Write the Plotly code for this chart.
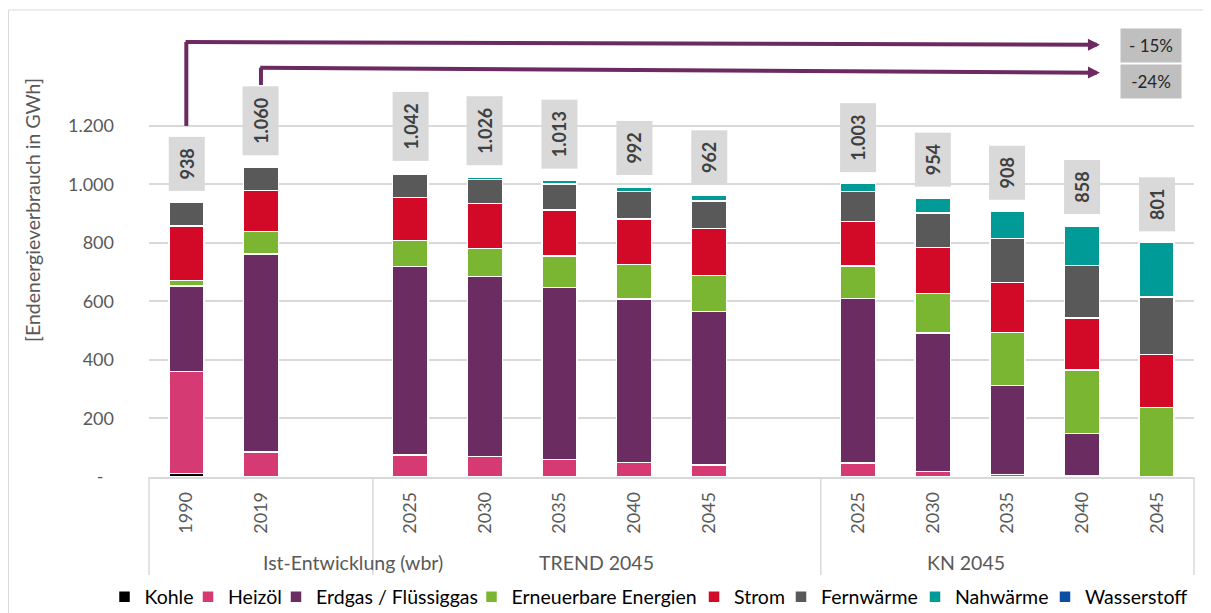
import plotly.graph_objects as go

years = ["1990", "2019", "", "2025", "2030", "2035", "2040", "2045", "",
         "2025", "2030", "2035", "2040", "2045"]
groups = ["Ist-Entwicklung (wbr)", "TREND 2045", "KN 2045"]
group_sizes = [3, 6, 5]

kohle = [12, 0, None, 0, 0, 0, 0, 0, None, 0, 0, 0, 0, 0]
heizoel = [348, 85, None, 76, 70, 60, 50, 41, None, 48, 18, 8, 3, 0]
erdgas = [293, 677, None, 644, 615, 587, 559, 524, None, 562, 474, 305, 145, 0]
erneuerbare = [19, 77, None, 88, 96, 109, 117, 124, None, 111, 135, 181, 217, 237]
strom = [186, 140, None, 147, 154, 157, 156, 160, None, 152, 158, 170, 178, 181]
fernwaerme = [80, 81, None, 81, 82, 88, 94, 95, None, 102, 117, 151, 180, 198]
nahwaerme = [0, 0, None, 6, 9, 12, 16, 18, None, 28, 52, 93, 135, 185]
wasserstoff = [0, 0, None, 0, 0, 0, 0, 0, None, 0, 0, 0, 0, 0]
totals = [938, 1060, None, 1042, 1026, 1013, 992, 962, None, 1003, 954, 908, 858, 801]

total_labels = ["938", "1.060", "", "1.042", "1.026", "1.013", "992", "962", "",
                "1.003", "954", "908", "858", "801"]
y_ticks = [0, 200, 400, 600, 800, 1000, 1200]
y_ticktext = ["-\u2007", "200", "400", "600", "800", "1.000", "1.200"]

# reduction arrows: (start category, start value, bend value, end x, end value, label, label value)
arrows = [
    (0, 1200, 1487, 12.24, 1477, "- 15%", 1476),
    (1, 1340, 1399, 12.24, 1382, "-24%", 1352),
]

series = [
    ("Kohle", kohle, "#000000"),
    ("Heizöl", heizoel, "#d63a72"),
    ("Erdgas / Flüssiggas", erdgas, "#6b2c62"),
    ("Erneuerbare Energien", erneuerbare, "#7ab631"),
    ("Strom", strom, "#d20a27"),
    ("Fernwärme", fernwaerme, "#595959"),
    ("Nahwärme", nahwaerme, "#009b96"),
    ("Wasserstoff", wasserstoff, "#0b4ea2"),
]
# x pixel of each legend marker (figure coords)
legend_px = [122.5, 206, 294, 489.5, 712, 799, 933, 1063]

FONT = "Lato, 'Open Sans', sans-serif"
GREY = "#595959"
L, W = 141, 1045          # plot area left / width in px
T, H = 12, 457            # plot area top / height in px
x = list(range(len(years)))

fig = go.Figure()
legends = {}
for k, ((name, vals, col), lx) in enumerate(zip(series, legend_px)):
    key = "legend" if k == 0 else f"legend{k + 1}"
    fig.add_bar(x=x, y=vals, name=name, marker_color=col, legend=key,
                marker_line=dict(color="white", width=1.5))
    legends[key] = dict(orientation="h", x=(lx - 26 - L) / W, xanchor="left",
                        y=-0.2626, yanchor="middle", bgcolor="rgba(0,0,0,0)",
                        font=dict(family=FONT, size=19.5, color="#000000"))

# total value boxes
for i, (t, lab) in enumerate(zip(totals, total_labels)):
    if t is None:
        continue
    fig.add_annotation(x=i, y=t, text=f"<b>{lab}</b>", showarrow=False,
                       textangle=-90, yanchor="bottom", yshift=11,
                       bgcolor="#d9d9d9", width=51 if t < 1000 else 66, height=33,
                       font=dict(family=FONT, size=18, color="#404040"))

# reduction arrows
purple = "#6d2a61"
for xi, y0, y1, xe, ye, lab, ly in arrows:
    fig.add_shape(type="line", x0=xi, x1=xi, y0=y0, y1=y1,
                  line=dict(color=purple, width=4))
    fig.add_annotation(x=xe, y=ye, ax=xi - 0.03, ay=y1, axref="x", ayref="y",
                       text="", showarrow=True, arrowhead=2, arrowsize=0.6,
                       arrowwidth=4, arrowcolor=purple, standoff=0)
    fig.add_annotation(x=12.92, y=ly, text=lab, showarrow=False, bgcolor="#bfbfbf",
                       width=58, height=31, font=dict(family=FONT, size=17, color="#262626"))

# group labels and dividers
n = len(years)
start = 0
for g, size in zip(groups, group_sizes):
    fig.add_annotation(x=(start + start + size) / 2 / n, xref="paper",
                       y=-0.188, yref="paper", yanchor="middle", text=g, showarrow=False,
                       font=dict(family=FONT, size=19.5, color=GREY))
    start += size
edge = 0
for b in [0] + group_sizes:
    edge += b
    fig.add_shape(type="line", xref="paper", yref="paper", x0=edge / n, x1=edge / n,
                  y0=0, y1=-0.2145, line=dict(color="#d9d9d9", width=1.5))

# y axis title (sits above the axis centre in the original)
fig.add_annotation(x=(24 - L) / W, xref="paper", y=(T + H - 202) / H, yref="paper",
                   text="[Endenergieverbrauch in GWh]", textangle=-90, showarrow=False,
                   xanchor="center", yanchor="middle",
                   font=dict(family=FONT, size=19.5, color=GREY))

# outer chart border
fig.add_shape(type="rect", xref="paper", yref="paper",
              x0=(0.5 - L) / W, x1=(1199 - L) / W,
              y0=(T + H - 640) / H, y1=(T + H - 2) / H,
              line=dict(color="#d9d9d9", width=1))

fig.update_layout(
    barmode="stack", bargap=0.53, width=1203, height=605,
    margin=dict(l=L, r=1203 - L - W, t=T, b=605 - T - H, autoexpand=False),
    plot_bgcolor="white", paper_bgcolor="white",
    font=dict(family=FONT, color=GREY),
    showlegend=True,
    xaxis=dict(range=[-0.5, n - 0.5], tickmode="array",
               tickvals=[i for i, yv in enumerate(years) if yv],
               ticktext=[yv for yv in years if yv], tickangle=-90,
               ticklabelstandoff=6, tickfont=dict(size=18, color=GREY),
               showgrid=False, showline=True, linecolor="#d9d9d9", linewidth=1.5,
               zeroline=False),
    yaxis=dict(range=[0, 1562], tickmode="array", tickvals=y_ticks, ticktext=y_ticktext,
               tickfont=dict(size=18, color=GREY), ticklabelstandoff=34,
               showgrid=True, gridcolor="#d9d9d9", gridwidth=1.5, zeroline=False),
    **legends,
)

fig.write_html("out.html")
